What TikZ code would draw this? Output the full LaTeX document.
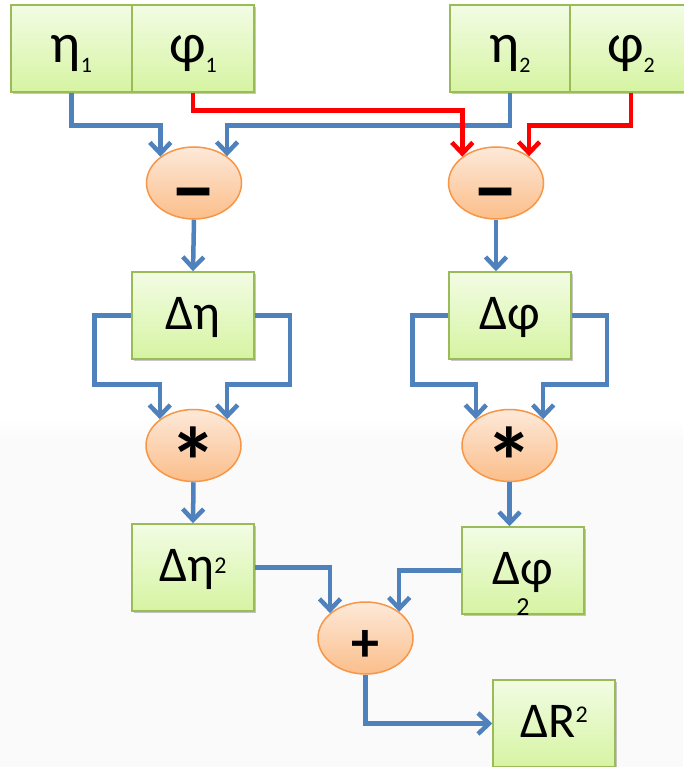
\documentclass[tikz,border=0pt]{standalone}
\usepackage{fontspec}
\setmainfont{Carlito}
\usetikzlibrary{arrows.meta,shapes.geometric,shadows}

\definecolor{boxline}{HTML}{9BBB59}
\definecolor{boxtop}{HTML}{F2FCE4}
\definecolor{boxbot}{HTML}{D6F4A2}
\definecolor{opline}{HTML}{F79646}
\definecolor{optop}{HTML}{FDE9D9}
\definecolor{opbot}{HTML}{FBBE8A}
\definecolor{flowblue}{HTML}{4F81BD}
\definecolor{flowred}{HTML}{FF0000}
\definecolor{paper}{HTML}{FAFAFA}

\newcommand{\lowsub}[1]{\raisebox{-10pt}{\fontsize{22}{22}\selectfont #1}}
\newcommand{\upsup}[2]{\raisebox{#1}{\fontsize{24}{24}\selectfont #2}}
\newcommand{\minussign}{\raisebox{-34pt}{\scalebox{1.85}[1.8]{–}}}
\newcommand{\starsign}{\raisebox{-50pt}{\fontsize{96}{96}\selectfont *}}

\begin{document}
\begin{tikzpicture}[x=1pt,y=-1pt,
  box/.style={rectangle, draw=boxline, line width=1.5pt,
    top color=boxtop, bottom color=boxbot,
    minimum width=122pt, minimum height=87pt, inner sep=0pt,
    text height=30pt, text depth=2pt,
    font=\fontsize{50}{50}\selectfont,
    drop shadow={shadow xshift=2pt, shadow yshift=-2pt, opacity=0.22, fill=black}},
  topbox/.style={box, font=\fontsize{56}{56}\selectfont},
  op/.style={ellipse, draw=opline, line width=1.5pt,
    top color=optop, bottom color=opbot,
    minimum width=95pt, minimum height=72pt, inner sep=0pt,
    text height=0pt, text depth=0pt,
    font=\bfseries\fontsize{50}{50}\selectfont},
  flow/.style={line width=4.5pt, draw=flowblue,
    -{Straight Barb[length=11pt,width=21pt]}},
  redflow/.style={flow, draw=flowred}]

\useasboundingbox (0,0) rectangle (683,767);
\fill[white] (0,0) rectangle (683,767);
\shade[top color=white, bottom color=paper] (0,418) rectangle (683,440);
\fill[paper] (0,440) rectangle (683,767);

% input cells
\node[topbox, minimum width=121pt] (eta1) at (71.5,48.5) {η\lowsub{1}};
\node[topbox] (phi1) at (193,48.5) {φ\lowsub{1}};
\node[topbox, minimum width=120pt] (eta2) at (510,48.5) {η\lowsub{2}};
\node[topbox] (phi2) at (631,48.5) {φ\lowsub{2}};

% differences
\node[op] (m1) at (194,183) {\minussign};
\node[op] (m2) at (496,183) {\minussign};

\node[box] (deta) at (193,315.5) {Δη};
\node[box] (dphi) at (510,315.5) {Δφ};

% squares
\node[op] (s1) at (193.5,445.5) {\starsign};
\node[op] (s2) at (509.5,445.5) {\starsign};

\node[box] (deta2) at (193,567.5) {Δη\upsup{8pt}{2}};
\node[box, label={[anchor=base, yshift=-1pt, inner sep=0pt,
    font=\fontsize{26}{26}\selectfont]south:2}] (dphi2) at (523,570.5) {Δφ};

% sum
\node[op] (plus) at (365.5,638) {\raisebox{-23pt}{\fontsize{56}{56}\selectfont +}};
\node[box] (dR) at (554,723.5) {ΔR\upsup{15pt}{2}};

% eta inputs
\draw[flow] (eta1.south) -- ++(0,33) -| (m1.142);
\draw[flow] (eta2.south) -- ++(0,33) -| (m1.39);
% phi inputs
\draw[redflow] (phi1.south) -- ++(0,18) -| (m2.142);
\draw[redflow] (phi2.south) -- ++(0,33) -| (m2.39);

\draw[flow] (m1.south) -- (deta.north);
\draw[flow] (m2.south) -- (m2.south |- dphi.north);

% squaring loops
\draw[flow] (deta.west) -- ++(-37,0) -- ++(0,69) -| (s1.142);
\draw[flow] (deta.east) -- ++(35,0) -- ++(0,69) -| (s1.38);
\draw[flow] (dphi.west) -- ++(-36,0) -- ++(0,69) -| (s2.142);
\draw[flow] (dphi.east) -- ++(35,0) -- ++(0,69) -| (s2.38);

\draw[flow] (s1.south) -- (deta2.north);
\draw[flow] (s2.south) -- (s2.south |- dphi2.north);

% summation
\draw[flow] (deta2.east) -| (plus.145);
\draw[flow] (dphi2.west) -| (plus.38);
\draw[flow] (plus.south) |- (dR.west);

\end{tikzpicture}
\end{document}
